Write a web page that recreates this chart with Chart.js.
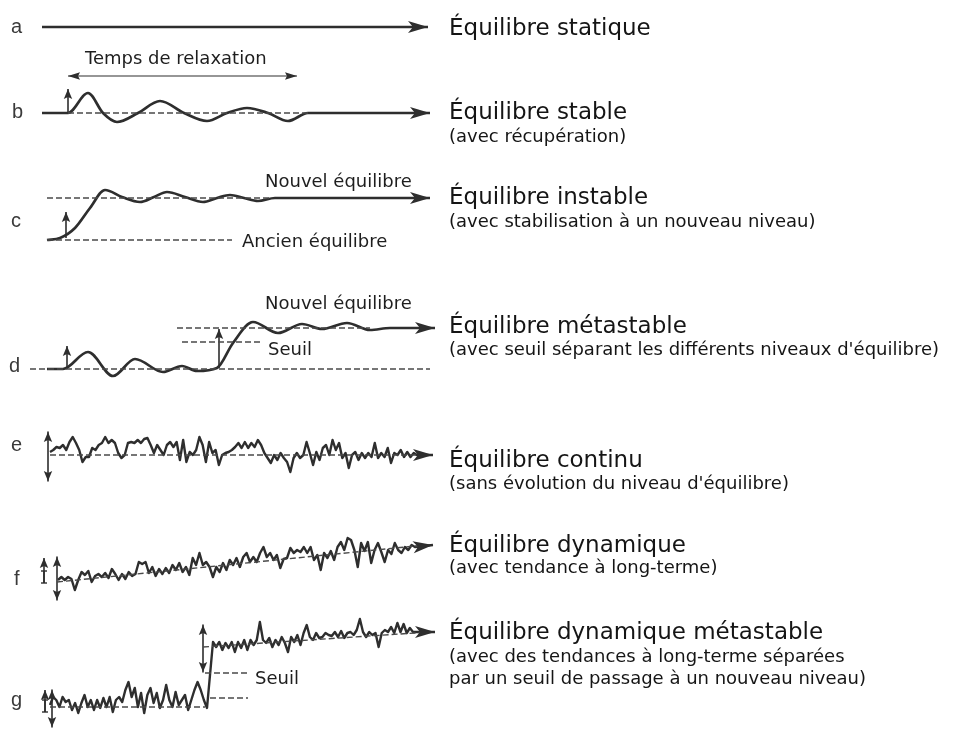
<!DOCTYPE html>
<html lang="fr">
<head>
<meta charset="utf-8">
<title>Types d'équilibre</title>
<script src="https://cdn.jsdelivr.net/npm/chart.js@4.4.1/dist/chart.umd.min.js"></script>
<style>
  html, body { margin: 0; padding: 0; background: #fff; }
  #wrap { width: 959px; height: 729px; }
</style>
</head>
<body>
<div id="wrap"><canvas id="graphique" width="959" height="729"></canvas></div>
<script>
// ==========================================
// DONNÉES
// ==========================================
const lettres = ['a', 'b', 'c', 'd', 'e', 'f', 'g'];
const titres = [
  'Équilibre statique',
  'Équilibre stable',
  'Équilibre instable',
  'Équilibre métastable',
  'Équilibre continu',
  'Équilibre dynamique',
  'Équilibre dynamique métastable'
];
const sousTitres = [
  [],
  ['(avec récupération)'],
  ['(avec stabilisation à un nouveau niveau)'],
  ["(avec seuil séparant les différents niveaux d'équilibre)"],
  ["(sans évolution du niveau d'équilibre)"],
  ['(avec tendance à long-terme)'],
  ['(avec des tendances à long-terme séparées', 'par un seuil de passage à un nouveau niveau)']
];
const annotations = ['Temps de relaxation', 'Nouvel équilibre', 'Ancien équilibre', 'Nouvel équilibre', 'Seuil', 'Seuil'];

// a : équilibre statique
const tempsA = [42, 428];
const niveauA = [702, 702];

// b : équilibre stable (oscillation amortie)
const tempsB = [42, 68, 88, 103, 117, 138, 160, 184, 207, 227, 247, 268, 288, 308, 430];
const niveauB = [616, 616, 636, 616, 607, 616, 628, 616, 608, 616, 621, 616, 608, 616, 616];

// c : équilibre instable
const tempsC = [47, 60, 75, 90, 105, 122, 140, 154, 167, 185, 203, 217, 230, 244, 258, 275, 430];
const niveauC = [489, 491, 501, 521, 539, 532, 527, 532, 537, 532, 527, 531, 534, 531, 528, 531, 531];

// d : équilibre métastable
const tempsD = [47, 63, 88, 113, 135, 163, 182, 197, 217, 233, 253, 278, 302, 322, 347, 370, 390, 435];
const niveauD = [360, 360, 377, 353, 370, 357, 363, 358, 361, 386, 407, 396, 405, 400, 406, 399, 401, 401];

// e : équilibre continu (écarts autour du niveau 274)
const niveauE0 = 274;
const ecartsE = [
  3, 5, 8, 7, 10, 5, 13, 18, 12, 5,
  -7, -2, -2, 7, 5, 10, 12, 18, 12, 15,
  12, 2, -3, 0, 12, 13, 12, 15, 12, 16,
  17, 10, 2, 10, 5, 0, 10, 13, 8, 13,
  -5, 15, -7, 3, 0, 5, 18, 10, -7, 13,
  2, 5, -10, 0, 2, 3, 5, 8, 12, 7,
  13, 7, 12, 8, 15, 10, 2, -3, -8, 0,
  -5, 2, -3, -7, -17, -3, 2, -3, 0, 13,
  2, -10, 3, -5, 7, 10, 0, 15, 5, 12,
  -3, 2, -13, 0, 3, -5, 2, -3, 2, -2,
  12, -3, 2, -2, 7, -8, 2, 0, 5, -2,
  3, -2, 2, 0
];

// f : équilibre dynamique
const niveauF = [
  149, 152, 149, 152, 150, 139, 149, 157, 154, 158,
  147, 153, 155, 152, 156, 151, 160, 155, 149, 155,
  150, 157, 153, 155, 167, 165, 167, 156, 162, 153,
  160, 155, 161, 156, 164, 159, 166, 157, 162, 154,
  171, 164, 176, 164, 167, 162, 152, 162, 157, 166,
  159, 169, 164, 171, 162, 172, 176, 167, 172, 167,
  176, 182, 172, 176, 169, 174, 161, 170, 171, 181,
  176, 179, 177, 182, 176, 182, 169, 174, 159, 176,
  171, 178, 169, 182, 187, 179, 191, 189, 179, 162,
  186, 178, 187, 166, 179, 186, 177, 167, 179, 175,
  186, 179, 176, 182, 179, 184, 182
];
const tendanceF = [147, 184];

// g : équilibre dynamique métastable
const niveauGbas = [
  24, 32, 29, 22, 32, 27, 29, 19, 26, 16,
  26, 34, 22, 29, 19, 29, 21, 31, 22, 32,
  17, 29, 32, 27, 39, 47, 32, 41, 22, 36,
  16, 34, 41, 26, 36, 21, 29, 44, 29, 22,
  37, 24, 29, 34, 19, 29, 39, 47, 39, 29,
  21
];
const niveauGhaut = [
  87, 82, 87, 79, 86, 81, 87, 77, 87, 81,
  89, 79, 89, 84, 89, 107, 89, 86, 91, 82,
  89, 84, 92, 86, 77, 92, 87, 94, 84, 96,
  104, 92, 89, 96, 91, 92, 96, 94, 93, 97,
  92, 98, 91, 96, 97, 94, 99, 110, 97, 92,
  97, 94, 96, 82, 96, 99, 97, 102, 96, 106,
  97, 105, 96, 101, 97
];
const tendanceGbas = [22, 22];
const tendanceGhaut = [82, 97];

// ==========================================
// MISE EN PAGE (positions dans les unités des échelles)
// ==========================================
const COUL = '#2e2e2e';
const COUL_TIRET = '#4a4a4a';

const posLettres = [[11, 696], [12, 611], [11, 502], [9, 357], [11, 278], [14, 144], [11, 23]];
const xTitre = 449;
const basesTitres = [694, 610, 525, 396, 262, 177, 90];
const basesSous = [[], [587], [502], [374], [240], [156], [67, 45]];
const posAnnot = [[85, 665], [265, 542], [242, 482], [265, 420], [268, 374], [255, 45]];

// segments pointillés : [x1, n1, x2, n2]
const pointilles = [
  [68, 616, 310, 616],
  [47, 531, 270, 531],
  [47, 489, 232, 489],
  [30, 360, 430, 360],
  [182, 387, 260, 387],
  [177, 401, 370, 401],
  [50, 274, 420, 274],
  [57, tendanceF[0], 425, tendanceF[1]],
  [50, tendanceGbas[0], 205, tendanceGbas[1]],
  [203, tendanceGhaut[0], 430, tendanceGhaut[1]],
  [205, 56, 248, 56],
  [210, 31, 248, 31]
];

// flèches : [x1, n1, x2, n2, type]
const fleches = [
  [68, 653, 297, 653, 'double', 'fine'],
  [68, 616, 68, 640, 'fin'],
  [66, 491, 66, 517, 'fin'],
  [67, 360, 67, 383, 'fin'],
  [219, 361, 219, 400, 'fin'],
  [48, 297, 48, 248, 'double'],
  [57, 172, 57, 129, 'double'],
  [44, 146, 44, 171, 'fin'],
  [52, 39, 52, 2, 'double'],
  [45, 17, 45, 39, 'fin'],
  [203, 104, 203, 57, 'double']
];
// petites barres en I : [x, n1, n2]
const barres = [[44, 146, 158], [45, 17, 29]];

// ==========================================
// CONSTRUCTION DES JEUX DE DONNÉES
// ==========================================
function serie(xs, ys) { return xs.map((x, i) => ({ x: x, y: ys[i] })); }
function reparti(x0, x1, ys) {
  const n = ys.length;
  return ys.map((y, i) => ({ x: x0 + i * (x1 - x0) / (n - 1), y: y }));
}

const datasets = [];

pointilles.forEach(p => {
  datasets.push({ data: [{ x: p[0], y: p[1] }, { x: p[2], y: p[3] }], borderColor: COUL_TIRET, borderWidth: 1.4, borderDash: [6, 3] });
});

fleches.forEach(f => {
  datasets.push({ data: [{ x: f[0], y: f[1] }, { x: f[2], y: f[3] }], borderColor: COUL, borderWidth: f[5] === 'fine' ? 1.2 : 1.6 });
});
barres.forEach(b => {
  datasets.push({ data: [{ x: b[0], y: b[1] }, { x: b[0], y: b[2] }], borderColor: COUL, borderWidth: 1.6 });
  datasets.push({ data: [{ x: b[0] - 3, y: b[1] }, { x: b[0] + 3, y: b[1] }], borderColor: COUL, borderWidth: 1.4 });
  datasets.push({ data: [{ x: b[0] - 3, y: b[2] }, { x: b[0] + 3, y: b[2] }], borderColor: COUL, borderWidth: 1.4 });
});

datasets.push({ data: serie(tempsA, niveauA), borderWidth: 2.5, tete: true });
datasets.push({ data: serie(tempsB, niveauB), borderWidth: 2.7, cubicInterpolationMode: 'monotone', tete: true });
datasets.push({ data: serie(tempsC, niveauC), borderWidth: 2.7, cubicInterpolationMode: 'monotone', tete: true });
datasets.push({ data: serie(tempsD, niveauD), borderWidth: 2.7, cubicInterpolationMode: 'monotone', tete: true });

const ptsE = reparti(50, 417, ecartsE.map(v => niveauE0 + v));
ptsE.push({ x: 433, y: niveauE0 });
datasets.push({ data: ptsE, borderWidth: 2.4, tete: true });

const ptsF = reparti(58, 415, niveauF);
ptsF.push({ x: 433, y: tendanceF[1] });
datasets.push({ data: ptsF, borderWidth: 2.4, tete: true });

const ptsG = reparti(50, 207, niveauGbas).concat(reparti(213, 413, niveauGhaut));
ptsG.push({ x: 435, y: tendanceGhaut[1] });
datasets.push({ data: ptsG, borderWidth: 2.4, tete: true });

// ==========================================
// PLUGIN : pointes de flèches et textes
// ==========================================
function pointe(ctx, px, py, ang, L, W, N) {
  ctx.save();
  ctx.translate(px, py);
  ctx.rotate(ang);
  ctx.beginPath();
  ctx.moveTo(0, 0);
  ctx.lineTo(-L, -W);
  ctx.lineTo(-L + N, 0);
  ctx.lineTo(-L, W);
  ctx.closePath();
  ctx.fill();
  ctx.restore();
}

const decor = {
  id: 'decor',
  afterDatasetsDraw(chart) {
    const ctx = chart.ctx;
    const sx = chart.scales.x, sy = chart.scales.y;
    ctx.save();
    ctx.fillStyle = COUL;

    // pointes en bout de ligne
    chart.data.datasets.forEach((ds, i) => {
      if (!ds.tete) return;
      const pts = chart.getDatasetMeta(i).data;
      const b = pts[pts.length - 1], a = pts[pts.length - 2];
      pointe(ctx, b.x, b.y, Math.atan2(b.y - a.y, b.x - a.x), 20, 6, 5);
    });

    // petites flèches
    fleches.forEach(f => {
      const x1 = sx.getPixelForValue(f[0]), y1 = sy.getPixelForValue(f[1]);
      const x2 = sx.getPixelForValue(f[2]), y2 = sy.getPixelForValue(f[3]);
      const ang = Math.atan2(y2 - y1, x2 - x1);
      const L = f[5] === 'fine' ? 12 : 10, W = f[5] === 'fine' ? 3.8 : 4.2;
      pointe(ctx, x2, y2, ang, L, W, 2);
      if (f[4] === 'double') pointe(ctx, x1, y1, ang + Math.PI, L, W, 2);
    });

    // lettres des lignes
    ctx.fillStyle = '#3a3a3a';
    ctx.font = '20px "Liberation Sans", Arial, sans-serif';
    ctx.textBaseline = 'alphabetic';
    lettres.forEach((l, i) => {
      ctx.fillText(l, sx.getPixelForValue(posLettres[i][0]), sy.getPixelForValue(posLettres[i][1]));
    });

    // titres et sous-titres
    ctx.fillStyle = '#151515';
    titres.forEach((t, i) => {
      ctx.font = '23px "DejaVu Sans", Verdana, sans-serif';
      ctx.fillText(t, sx.getPixelForValue(xTitre), sy.getPixelForValue(basesTitres[i]));
      ctx.font = '18px "DejaVu Sans", Verdana, sans-serif';
      sousTitres[i].forEach((s, j) => {
        ctx.fillText(s, sx.getPixelForValue(xTitre), sy.getPixelForValue(basesSous[i][j]));
      });
    });

    // annotations
    ctx.fillStyle = '#1e1e1e';
    ctx.font = '18px "DejaVu Sans", Verdana, sans-serif';
    annotations.forEach((t, i) => {
      ctx.fillText(t, sx.getPixelForValue(posAnnot[i][0]), sy.getPixelForValue(posAnnot[i][1]));
    });
    ctx.restore();
  }
};

// ==========================================
// GRAPHIQUE
// ==========================================
const graphique = new Chart(document.getElementById('graphique'), {
  type: 'line',
  data: { datasets: datasets },
  options: {
    responsive: false,
    animation: false,
    devicePixelRatio: 1,
    layout: { padding: 0 },
    plugins: { legend: { display: false }, tooltip: { enabled: false } },
    elements: {
      point: { radius: 0, hoverRadius: 0 },
      line: { borderColor: COUL, borderWidth: 2, tension: 0, borderJoinStyle: 'round', fill: false }
    },
    scales: {
      x: { type: 'linear', min: 0, max: 959, display: false },
      y: { type: 'linear', min: 0, max: 729, display: false }
    }
  },
  plugins: [decor]
});
</script>
</body>
</html>
